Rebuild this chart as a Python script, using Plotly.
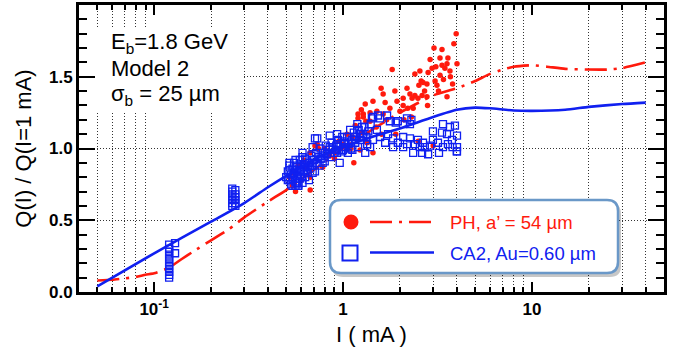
import plotly.graph_objects as go
import numpy as np

# ---------------- data ----------------
# PH model curve (dash-dot red)
ph_line_I = [0.05, 0.06, 0.07, 0.08, 0.09, 0.1, 0.12, 0.14, 0.16, 0.2, 0.25, 0.3, 0.4, 0.5, 0.7,
             1.0, 1.5, 2.0, 3.0, 4.0, 5.0, 6.0, 7.0, 8.0, 10, 12, 15, 20, 25, 30, 40]
ph_line_Q = [0.08, 0.085, 0.095, 0.105, 0.12, 0.13, 0.17, 0.23, 0.28, 0.36, 0.44, 0.52, 0.63, 0.71, 0.85,
             1.0, 1.15, 1.25, 1.37, 1.42, 1.47, 1.52, 1.55, 1.57, 1.58, 1.57, 1.555, 1.55, 1.55, 1.56, 1.60]

# CA2 model curve (solid blue)
ca_line_I = [0.05, 0.1, 0.2, 0.3, 0.4, 0.5, 0.6, 0.8, 1.0, 1.5, 2.0, 3.0, 4.0, 5.0, 6.0, 8.0,
             10, 15, 20, 30, 40]
ca_line_Q = [0.04, 0.27, 0.49, 0.62, 0.73, 0.81, 0.87, 0.96, 1.01, 1.09, 1.14, 1.22, 1.27, 1.285, 1.28, 1.265,
             1.262, 1.27, 1.29, 1.31, 1.32]

# PH measured points (red dots)
ph_pts_I = [3.97, 3.86, 4.01, 3.03, 3.34, 3.26, 2.89, 3.59, 3.55, 3.34, 3.10, 2.96, 3.46, 3.68, 2.82, 3.26,
            1.82, 2.55, 2.40, 2.59, 2.78, 2.65, 3.07, 3.14, 3.55, 2.52, 2.18, 1.88, 1.63, 1.59, 2.26, 2.40,
            2.62, 2.49, 2.32, 2.08, 2.78, 1.67, 1.93, 1.44, 1.31, 1.77, 2.08, 2.35, 1.51, 1.39, 1.28, 2.00,
            1.63, 1.25, 1.20, 1.20, 1.32, 1.16, 1.39, 1.28, 1.26, 1.44, 1.34, 1.23, 1.14, 0.73, 0.71, 0.74,
            0.67, 0.67, 0.67, 0.78, 0.55, 0.58, 0.60, 0.62, 0.52, 0.85, 0.95, 1.05, 1.10, 0.90, 1.50, 1.70,
            2.10, 2.30, 2.80, 3.20, 3.80, 1.90, 2.50, 3.00, 1.60, 0.80, 0.56, 0.54, 0.64, 0.88, 1.00, 1.12,
            2.20, 2.70, 3.40, 3.70]
ph_pts_Q = [1.80, 1.73, 1.59, 1.70, 1.69, 1.63, 1.62, 1.63, 1.59, 1.58, 1.57, 1.56, 1.56, 1.54, 1.53, 1.51,
            1.55, 1.54, 1.52, 1.47, 1.45, 1.46, 1.47, 1.44, 1.36, 1.44, 1.42, 1.40, 1.38, 1.42, 1.38, 1.37,
            1.37, 1.35, 1.35, 1.35, 1.36, 1.32, 1.33, 1.33, 1.31, 1.28, 1.30, 1.28, 1.26, 1.25, 1.24, 1.26,
            1.24, 1.27, 1.24, 1.21, 1.19, 1.16, 1.19, 1.22, 1.11, 0.97, 1.04, 0.99, 0.90, 1.03, 1.02, 1.00,
            0.97, 0.71, 0.80, 0.87, 0.83, 0.88, 0.78, 0.92, 0.80, 0.95, 1.05, 1.10, 1.00, 0.93, 1.15, 1.20,
            1.20, 1.22, 1.30, 1.40, 1.45, 1.10, 1.05, 1.02, 1.10, 1.00, 0.70, 0.74, 0.86, 0.98, 1.03, 1.08,
            1.28, 1.40, 1.48, 1.50]

# CA2 measured points (blue open squares)
ca_pts_I = [0.12, 0.12, 0.12, 0.12, 0.12, 0.12, 0.12, 0.12, 0.12, 0.12, 0.12, 0.12, 0.129, 0.129,
            0.259, 0.259, 0.259, 0.259, 0.259, 0.259, 0.259, 0.269, 0.269, 0.269, 0.269, 0.269, 0.269,
            0.50, 0.51, 0.52, 0.52, 0.53, 0.53, 0.54, 0.54, 0.55, 0.55, 0.56, 0.56, 0.57, 0.57, 0.58, 0.58,
            0.59, 0.59, 0.60, 0.60, 0.61, 0.62, 0.62, 0.63, 0.63, 0.64, 0.65, 0.66, 0.66, 0.67, 0.68, 0.69,
            0.70, 0.71, 0.72, 0.73, 0.74, 0.75, 0.76, 0.77, 0.78, 0.80, 0.81, 0.82, 0.84, 0.86, 0.87, 0.88,
            0.90, 0.92, 0.94, 0.95, 0.97, 0.99, 1.01, 1.03, 1.05, 1.07, 1.10, 1.12, 1.14, 1.16, 1.18, 1.21,
            1.24, 1.27, 1.30, 1.33, 1.36, 1.40,
            0.73, 0.85, 0.93, 0.99, 1.02, 0.96, 0.93, 1.12, 1.12, 1.20, 1.28, 1.26, 1.19, 1.09, 0.61, 0.61,
            0.69, 0.65, 0.76, 0.80, 0.85, 0.69, 0.52, 0.54, 0.57, 0.52, 0.56, 0.59, 0.61, 0.63, 0.65, 0.54,
            0.51, 0.69, 0.78, 0.89, 0.93, 1.00, 1.06, 1.16, 1.23, 1.34, 0.71, 0.56, 0.58,
            3.68, 3.91, 4.01, 3.55, 3.34, 3.77, 4.01, 4.01, 3.59, 3.38, 3.18, 3.22, 2.99, 2.99, 2.89, 2.82,
            2.71, 2.62, 2.65, 2.49, 2.55, 2.40, 2.35, 2.26, 2.18, 2.08, 2.08, 1.95, 1.84, 1.84, 1.73, 1.67,
            1.57, 1.51, 1.44, 1.39, 1.31, 1.34, 2.08, 2.26, 1.95, 1.77, 1.57, 1.44, 3.38, 3.80, 4.00,
            2.18, 1.42, 1.53, 1.71, 1.90, 2.30]
ca_pts_Q = [0.10, 0.12, 0.14, 0.16, 0.18, 0.20, 0.22, 0.24, 0.26, 0.28, 0.30, 0.33, 0.27, 0.34,
            0.60, 0.62, 0.64, 0.66, 0.68, 0.70, 0.72, 0.60, 0.62, 0.64, 0.66, 0.68, 0.71,
            0.80, 0.84, 0.78, 0.88, 0.82, 0.75, 0.86, 0.79, 0.83, 0.90, 0.77, 0.85, 0.81, 0.88, 0.74, 0.84,
            0.79, 0.92, 0.86, 0.82, 0.76, 0.89, 0.84, 0.80, 0.93, 0.87, 0.83, 0.90, 0.78, 0.86, 0.95, 0.88,
            0.92, 0.84, 0.97, 0.90, 0.94, 0.88, 1.00, 0.93, 0.97, 0.91, 1.02, 0.96, 0.99, 0.94, 1.04, 1.00,
            0.97, 1.02, 1.06, 0.99, 1.03, 0.98, 1.05, 1.01, 1.08, 1.03, 1.00, 1.06, 1.11, 1.04, 1.08, 1.13,
            1.06, 1.10, 1.15, 1.08, 1.12, 1.17,
            1.07, 1.09, 1.10, 1.08, 1.04, 0.90, 0.97, 1.06, 0.99, 1.01, 1.08, 1.15, 1.17, 1.13, 0.97, 0.94,
            0.92, 0.87, 0.93, 0.97, 1.01, 1.01, 0.85, 0.80, 0.76, 0.90, 0.92, 0.85, 0.80, 0.88, 0.83, 0.74,
            0.78, 0.83, 0.90, 0.97, 1.03, 0.99, 0.97, 1.08, 1.10, 1.03, 1.07, 0.74, 0.75,
            1.15, 1.16, 1.09, 1.10, 1.11, 1.06, 0.98, 1.01, 1.03, 1.01, 1.04, 0.97, 1.12, 1.06, 1.02, 0.96,
            1.01, 0.97, 1.04, 1.06, 1.01, 1.03, 0.97, 1.07, 1.03, 1.08, 1.01, 1.04, 1.07, 1.01, 1.10, 1.04,
            1.08, 1.13, 1.06, 1.01, 0.97, 1.03, 1.17, 1.17, 1.19, 1.19, 1.21, 1.22, 1.17, 1.01, 0.98,
            1.21, 1.21, 1.23, 1.23, 1.18, 1.20]

x_tick_vals = [0.1, 1, 10]
x_tick_text = ["10<sup>-1</sup>", "1", "10"]
y_tick_vals = [0.0, 0.5, 1.0, 1.5]
y_tick_text = ["0.0", "0.5", "1.0", "1.5"]

RED = "#ff1a0d"
BLUE = "#1020f0"
FONT = "Liberation Sans, Arial, Helvetica, sans-serif"

# ---------------- figure ----------------
fig = go.Figure()
fig.add_trace(go.Scatter(x=ph_pts_I, y=ph_pts_Q, mode="markers",
                         marker=dict(color=RED, size=5.5, symbol="circle"), name="PH data"))
fig.add_trace(go.Scatter(x=ph_line_I, y=ph_line_Q, mode="lines", line_shape="spline",
                         line=dict(color=RED, width=2.6, dash="22px,7px,3px,7px", smoothing=0.5), name="PH"))
fig.add_trace(go.Scatter(x=ca_pts_I, y=ca_pts_Q, mode="markers",
                         marker=dict(color=BLUE, size=7, symbol="square-open", line=dict(width=1.3, color=BLUE)),
                         name="CA2 data"))
fig.add_trace(go.Scatter(x=ca_line_I, y=ca_line_Q, mode="lines", line_shape="spline",
                         line=dict(color=BLUE, width=2.6, smoothing=0.6), name="CA2"))

# plot area in pixels: x 79..664, y 5..292
L, R, T, B = 79, 664, 5, 292
def px(x):
    return (x - L) / (R - L)
def py(y):
    return (B - y) / (B - T)

minor_x = [0.05, 0.06, 0.07, 0.08, 0.09, 0.2, 0.3, 0.4, 0.5, 0.6, 0.7, 0.8, 0.9,
           2, 3, 4, 5, 6, 7, 8, 9, 20, 30, 40]
minor_y = [v / 10 for v in range(1, 20) if v % 5 != 0]

axis_common = dict(showline=True, linecolor="black", linewidth=3, mirror="allticks",
                   ticks="inside", tickcolor="black", tickwidth=2, zeroline=False, automargin=False,
                   tickfont=dict(family=FONT, size=17, color="black", weight="bold"))

fig.update_xaxes(type="log", range=[np.log10(0.04), np.log10(50)],
                 tickmode="array", tickvals=x_tick_vals, ticktext=x_tick_text, ticklen=10,
                 showgrid=False,
                 minor=dict(tickmode="array", tickvals=minor_x, ticklen=5, tickwidth=1.5, tickcolor="black",
                            ticks="inside", showgrid=True, gridcolor="#333", gridwidth=1, griddash="1px,2px"),
                 title=dict(text="I ( mA )", font=dict(family=FONT, size=22, color="black"), standoff=9),
                 **axis_common)
fig.update_yaxes(range=[0, 2.0], tickmode="array", tickvals=y_tick_vals, ticktext=y_tick_text, ticklen=16,
                 showgrid=True, gridcolor="#333", gridwidth=1, griddash="1px,2px",
                 minor=dict(tickmode="array", tickvals=minor_y, ticklen=8, tickwidth=1.5, tickcolor="black",
                            ticks="inside", showgrid=False),
                 title=dict(text="Q(I) / Q(I=1 mA)", font=dict(family=FONT, size=22, color="black"), standoff=12),
                 **axis_common)

shapes = []
# white box behind the parameters text
shapes.append(dict(type="rect", xref="paper", yref="paper", x0=px(96), x1=px(242), y0=py(113), y1=py(27),
                   fillcolor="white", line=dict(width=0), layer="above"))

def rounded(x0, y0, x1, y1, r):
    rx = r / (R - L)
    ry = r / (B - T)
    X0, X1, Y0, Y1 = px(x0), px(x1), py(y1), py(y0)
    return (f"M {X0+rx},{Y0} L {X1-rx},{Y0} Q {X1},{Y0} {X1},{Y0+ry} "
            f"L {X1},{Y1-ry} Q {X1},{Y1} {X1-rx},{Y1} L {X0+rx},{Y1} Q {X0},{Y1} {X0},{Y1-ry} "
            f"L {X0},{Y0+ry} Q {X0},{Y0} {X0+rx},{Y0} Z")

# legend shadow + box
shapes.append(dict(type="path", xref="paper", yref="paper", path=rounded(332, 203, 621, 277, 11),
                   fillcolor="rgba(0,0,0,0.22)", line=dict(width=0), layer="above"))
shapes.append(dict(type="path", xref="paper", yref="paper", path=rounded(330, 200, 618, 273, 11),
                   fillcolor="white", line=dict(color="#6a98c8", width=2.5), layer="above"))
# legend symbols
shapes.append(dict(type="circle", xref="paper", yref="paper", x0=px(343.5), x1=px(358.5), y0=py(229.5), y1=py(214.5),
                   fillcolor=RED, line=dict(color=RED, width=0), layer="above"))
shapes.append(dict(type="line", xref="paper", yref="paper", x0=px(370), x1=px(434), y0=py(222), y1=py(222),
                   line=dict(color=RED, width=2.6, dash="22px,7px,3px,7px"), layer="above"))
shapes.append(dict(type="rect", xref="paper", yref="paper", x0=px(342.5), x1=px(357.5), y0=py(260.5), y1=py(245.5),
                   fillcolor="white", line=dict(color=BLUE, width=2), layer="above"))
shapes.append(dict(type="line", xref="paper", yref="paper", x0=px(370), x1=px(434), y0=py(252.5), y1=py(252.5),
                   line=dict(color=BLUE, width=2.6), layer="above"))

annotations = [
    dict(text="E<sub>b</sub>=1.8 GeV", x=px(109), y=py(43)),
    dict(text="Model 2", x=px(109), y=py(68)),
    dict(text="σ<sub>b</sub> = 25 µm", x=px(109), y=py(95)),
]
annotations = [dict(a, xref="paper", yref="paper", xanchor="left", yanchor="middle", showarrow=False,
                    font=dict(family=FONT, size=22, color="black")) for a in annotations]
annotations += [
    dict(text="PH, a’ = 54 µm", x=px(448), y=py(222), xref="paper", yref="paper", xanchor="left",
         yanchor="middle", showarrow=False, font=dict(family=FONT, size=18.5, color=RED)),
    dict(text="CA2, Au=0.60 µm", x=px(448), y=py(253), xref="paper", yref="paper", xanchor="left",
         yanchor="middle", showarrow=False, font=dict(family=FONT, size=18.5, color=BLUE)),
]

fig.update_layout(width=683, height=353, margin=dict(l=L, r=683 - R, t=T, b=353 - B),
                  paper_bgcolor="white", plot_bgcolor="white", showlegend=False,
                  shapes=shapes, annotations=annotations,
                  font=dict(family=FONT, color="black"))

fig.write_html("out.html", config={"displayModeBar": False},
               post_script="document.body.style.margin='0';document.body.style.padding='0';")
